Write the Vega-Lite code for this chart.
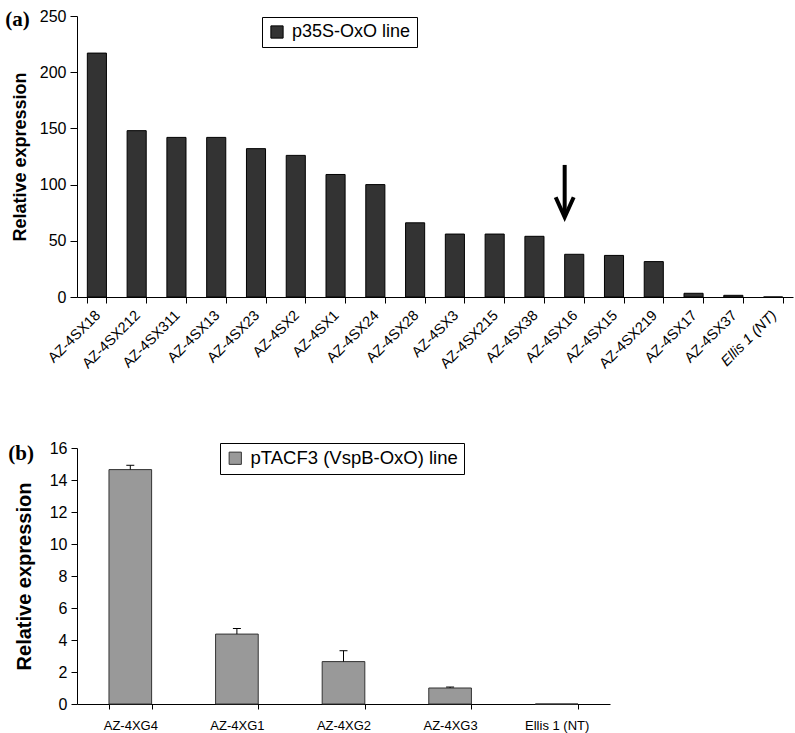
{
  "$schema": "https://vega.github.io/schema/vega-lite/v6.json",
  "background": "white",
  "padding": {"left": 5, "top": 8, "right": 2, "bottom": 2},
  "spacing": 151,
  "bounds": "flush",
  "resolve": {"scale": {"x": "independent", "y": "independent", "color": "independent"}, "legend": {"color": "independent"}, "axis": {"x": "independent", "y": "independent"}},
  "config": {
    "view": {"stroke": null},
    "font": "Liberation Sans",
    "axis": {"domainColor": "black", "tickColor": "black", "labelColor": "black", "titleColor": "black", "grid": false, "labelFont": "Liberation Sans", "titleFont": "Liberation Sans", "domainWidth": 1, "tickWidth": 1},
    "legend": {"labelFont": "Liberation Sans", "labelColor": "black", "labelLimit": 400}
  },
  "vconcat": [
    {
      "width": 716,
      "height": 281,
      "title": {"text": "(a)", "anchor": "start", "frame": "bounds", "font": "Liberation Serif", "fontSize": 21, "fontWeight": "bold", "color": "black", "offset": 0, "dy": 22, "dx": -6},
      "layer": [
        {
          "data": {"values": [
            {"line": "AZ-4SX18", "value": 217, "series": "p35S-OxO line"},
            {"line": "AZ-4SX212", "value": 148, "series": "p35S-OxO line"},
            {"line": "AZ-4SX311", "value": 142, "series": "p35S-OxO line"},
            {"line": "AZ-4SX13", "value": 142, "series": "p35S-OxO line"},
            {"line": "AZ-4SX23", "value": 132, "series": "p35S-OxO line"},
            {"line": "AZ-4SX2", "value": 126, "series": "p35S-OxO line"},
            {"line": "AZ-4SX1", "value": 109, "series": "p35S-OxO line"},
            {"line": "AZ-4SX24", "value": 100, "series": "p35S-OxO line"},
            {"line": "AZ-4SX28", "value": 66, "series": "p35S-OxO line"},
            {"line": "AZ-4SX3", "value": 56, "series": "p35S-OxO line"},
            {"line": "AZ-4SX215", "value": 56, "series": "p35S-OxO line"},
            {"line": "AZ-4SX38", "value": 54, "series": "p35S-OxO line"},
            {"line": "AZ-4SX16", "value": 38, "series": "p35S-OxO line"},
            {"line": "AZ-4SX15", "value": 37, "series": "p35S-OxO line"},
            {"line": "AZ-4SX219", "value": 31.5, "series": "p35S-OxO line"},
            {"line": "AZ-4SX17", "value": 3.3, "series": "p35S-OxO line"},
            {"line": "AZ-4SX37", "value": 1.5, "series": "p35S-OxO line"},
            {"line": "Ellis 1 (NT)", "value": 0, "series": "p35S-OxO line"}
          ]},
          "mark": {"type": "bar", "stroke": "black", "strokeWidth": 1},
          "encoding": {
            "x": {"field": "line", "type": "nominal", "sort": null,
                  "scale": {"paddingInner": 0.52, "paddingOuter": 0.26},
                  "axis": {"title": null, "labelAngle": -45, "labelFontSize": 14.5, "tickBand": "extent", "tickSize": 6, "labelPadding": 5, "labelOffset": -4,
                           "labelFontStyle": {"condition": {"test": "datum.value == 'Ellis 1 (NT)'", "value": "italic"}, "value": "normal"}}},
            "y": {"field": "value", "type": "quantitative",
                  "scale": {"domain": [0, 250], "nice": false},
                  "axis": {"title": "Relative expression", "titleFontSize": 18, "titleFontWeight": "bold", "titlePadding": 10, "labelFontSize": 16, "values": [0, 50, 100, 150, 200, 250], "tickSize": 7, "labelPadding": 4, "labelOverlap": false}},
            "color": {"field": "series", "type": "nominal",
                      "scale": {"range": ["#333333"]},
                      "legend": {"title": null, "orient": "none", "legendX": 185, "legendY": 1, "strokeColor": "black", "fillColor": "white", "padding": 6, "symbolType": "square", "symbolSize": 150, "symbolStrokeColor": "black", "symbolStrokeWidth": 1, "labelFontSize": 18, "labelOffset": 6}}
          }
        },
        {
          "data": {"values": [{"line": "AZ-4SX16", "top": 117.5, "bottom": 74}]},
          "mark": {"type": "rule", "strokeWidth": 4, "color": "black"},
          "encoding": {
            "x": {"field": "line", "type": "nominal", "sort": null, "bandPosition": 0},
            "y": {"field": "top", "type": "quantitative"},
            "y2": {"field": "bottom"}
          }
        },
        {
          "data": {"values": [{"line": "AZ-4SX16", "tip": 71}]},
          "mark": {"type": "point", "shape": "M-0.9,-2L0,0L0.9,-2", "size": 400, "filled": false, "stroke": "black", "strokeWidth": 4, "opacity": 1},
          "encoding": {
            "x": {"field": "line", "type": "nominal", "sort": null, "bandPosition": 0},
            "y": {"field": "tip", "type": "quantitative"}
          }
        }
      ]
    },
    {
      "width": 533,
      "height": 256,
      "title": {"text": "(b)", "anchor": "start", "frame": "bounds", "font": "Liberation Serif", "fontSize": 21, "fontWeight": "bold", "color": "black", "offset": 0, "dy": 24, "dx": -6},
      "layer": [
        {
          "data": {"values": [
            {"line": "AZ-4XG4", "value": 14.65, "series": "pTACF3 (VspB-OxO) line"},
            {"line": "AZ-4XG1", "value": 4.37, "series": "pTACF3 (VspB-OxO) line"},
            {"line": "AZ-4XG2", "value": 2.65, "series": "pTACF3 (VspB-OxO) line"},
            {"line": "AZ-4XG3", "value": 1.0, "series": "pTACF3 (VspB-OxO) line"},
            {"line": "Ellis 1 (NT)", "value": 0, "series": "pTACF3 (VspB-OxO) line"}
          ]},
          "mark": {"type": "bar", "stroke": "#333333", "strokeWidth": 1},
          "encoding": {
            "x": {"field": "line", "type": "nominal", "sort": null,
                  "scale": {"paddingInner": 0.6, "paddingOuter": 0.3},
                  "axis": {"title": null, "labelAngle": 0, "labelFontSize": 13, "tickBand": "extent", "tickSize": 5, "labelPadding": 10}},
            "y": {"field": "value", "type": "quantitative",
                  "scale": {"domain": [0, 16], "nice": false},
                  "axis": {"title": "Relative expression", "titleFontSize": 20, "titleFontWeight": "bold", "titlePadding": 15, "labelFontSize": 16, "tickCount": 8, "tickSize": 6, "labelPadding": 4, "labelOverlap": false, "labelSeparation": 0}},
            "color": {"field": "series", "type": "nominal",
                      "scale": {"range": ["#999999"]},
                      "legend": {"title": null, "orient": "none", "legendX": 143, "legendY": -5, "strokeColor": "black", "fillColor": "white", "padding": 6, "symbolType": "square", "symbolSize": 150, "symbolStrokeColor": "#333333", "symbolStrokeWidth": 1, "labelFontSize": 18.5, "labelOffset": 6}}
          }
        },
        {
          "data": {"values": [
            {"line": "AZ-4XG4", "value": 14.65, "hi": 14.92},
            {"line": "AZ-4XG1", "value": 4.37, "hi": 4.72},
            {"line": "AZ-4XG2", "value": 2.65, "hi": 3.33},
            {"line": "AZ-4XG3", "value": 1.0, "hi": 1.06}
          ]},
          "mark": {"type": "rule", "color": "black", "strokeWidth": 1},
          "encoding": {
            "x": {"field": "line", "type": "nominal", "sort": null},
            "y": {"field": "value", "type": "quantitative"},
            "y2": {"field": "hi"}
          }
        },
        {
          "data": {"values": [
            {"line": "AZ-4XG4", "hi": 14.92},
            {"line": "AZ-4XG1", "hi": 4.72},
            {"line": "AZ-4XG2", "hi": 3.33},
            {"line": "AZ-4XG3", "hi": 1.06}
          ]},
          "mark": {"type": "tick", "color": "black", "size": 8, "thickness": 1, "orient": "horizontal", "opacity": 1},
          "encoding": {
            "x": {"field": "line", "type": "nominal", "sort": null},
            "y": {"field": "hi", "type": "quantitative"}
          }
        }
      ]
    }
  ]
}
